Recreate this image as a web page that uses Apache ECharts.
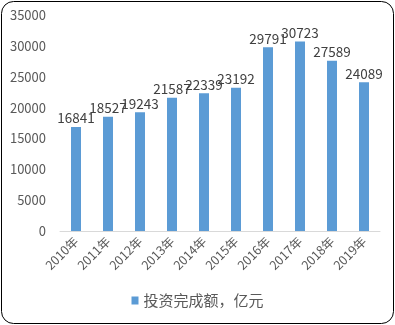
<!DOCTYPE html>
<html><head><meta charset="utf-8">
<script src="https://cdn.jsdelivr.net/npm/echarts@6/dist/echarts.min.js"></script>
<style>html,body{margin:0;padding:0;background:#fff}#c{width:395px;height:325px}</style>
</head><body><div id="c"></div>
<script>
var categories = ['2010年','2011年','2012年','2013年','2014年','2015年','2016年','2017年','2018年','2019年'];
var values = [16841,18527,19243,21587,22339,23192,29791,30723,27589,24089];
var seriesName = '投资完成额，亿元';
var font = '"Noto Sans CJK SC", sans-serif';
var chart = echarts.init(document.getElementById('c'));
chart.setOption({
  animation: false,
  graphic: [{type:'rect', shape:{x:1.5,y:1.5,width:392,height:322,r:12}, style:{fill:'none',stroke:'#000',lineWidth:1}, silent:true}],
  grid: {left:60, right:15, top:15, bottom:94},
  legend: {bottom:12, left:'center', itemWidth:7, itemHeight:8, itemGap:4, icon:'rect',
    textStyle:{color:'#595959', fontSize:15, fontFamily:font}, data:[seriesName]},
  xAxis: {type:'category', data:categories,
    axisLine:{lineStyle:{color:'#D9D9D9'}}, axisTick:{show:false},
    axisLabel:{rotate:45, color:'#595959', fontSize:12.5, fontFamily:font, margin:8, interval:0}},
  yAxis: {type:'value', min:0, max:35000, interval:5000,
    axisLine:{show:false}, axisTick:{show:false}, splitLine:{show:false},
    axisLabel:{color:'#595959', fontSize:13, fontFamily:font, margin:14, formatter:function(v){return String(v);}}},
  series: [{name:seriesName, type:'bar', data:values, barWidth:10,
    itemStyle:{color:'#5B9BD5'},
    label:{show:true, position:'top', color:'#404040', fontSize:13.5, fontFamily:font, distance:2}}]
});
</script></body></html>
